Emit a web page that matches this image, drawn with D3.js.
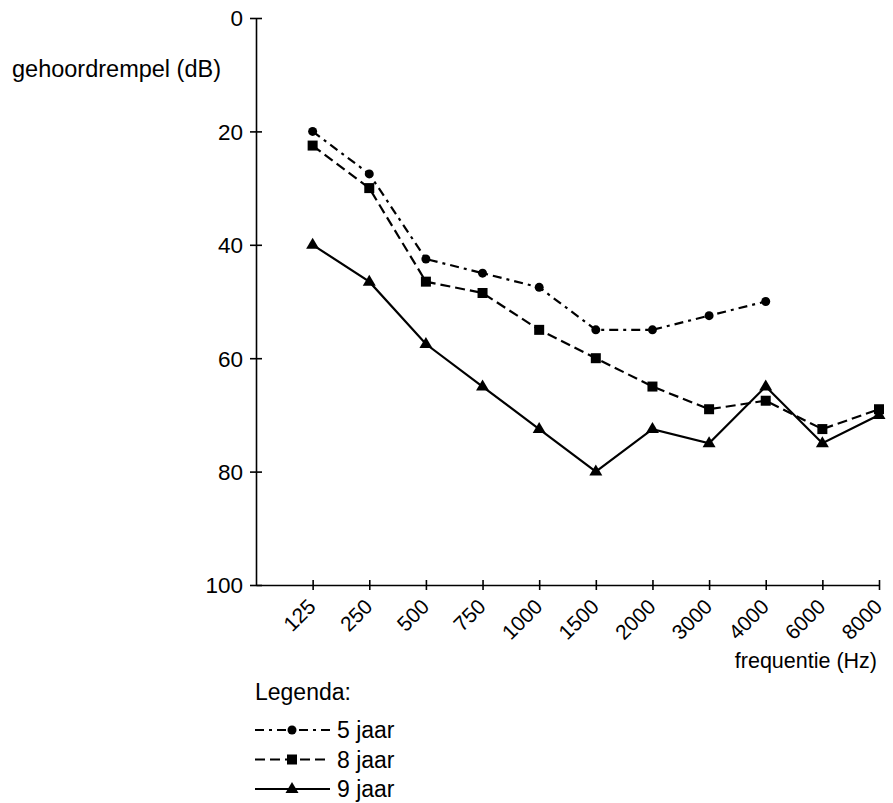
<!DOCTYPE html>
<html><head><meta charset="utf-8">
<script src="https://cdn.jsdelivr.net/npm/d3@7"></script>
<style>body{margin:0;background:#fff}text{font-family:Arial,"Liberation Sans",sans-serif;fill:#000}</style>
</head><body>
<svg id="c" width="893" height="803"></svg>
<script>
const frequencies = ["125","250","500","750","1000","1500","2000","3000","4000","6000","8000"];
const yTicks = [0,20,40,60,80,100];
const jaar5 = [20,27.5,42.5,45,47.5,55,55,52.5,50,null,null];
const jaar8 = [22.5,30,46.5,48.5,55,60,65,69,67.5,72.5,69];
const jaar9 = [40,46.5,57.5,65,72.5,80,72.5,75,65,75,70];
const seriesNames = ["5 jaar","8 jaar","9 jaar"];

const svg = d3.select("#c");
const x0 = 256, x1 = 879, yTop = 18, yBot = 585;
const x = d3.scalePoint().domain(["", ...frequencies]).range([x0, x1]);
const y = d3.scaleLinear().domain([0,100]).range([yTop, yBot]);

// axes
const yAxis = svg.append("g").attr("transform",`translate(${x0},0)`)
  .call(d3.axisLeft(y).tickValues(yTicks).tickSize(6).tickSizeOuter(0).tickPadding(6));
yAxis.select(".domain").attr("stroke","#000").attr("stroke-width",1.6);
yAxis.selectAll(".tick line").attr("stroke-width",1.6).attr("x1",-6).attr("x2",6);
yAxis.selectAll(".tick text").attr("font-size",22.5).attr("x",-13).attr("dy","0.35em");

const xAxis = svg.append("g").attr("transform",`translate(0,${yBot})`)
  .call(d3.axisBottom(x).tickValues(frequencies).tickSize(5).tickSizeOuter(0));
xAxis.select(".domain").attr("stroke-width",1.6);
xAxis.selectAll(".tick line").attr("stroke-width",1.6).attr("y1",-5).attr("y2",5);
xAxis.selectAll(".tick text").attr("font-size",21)
  .attr("text-anchor","end").attr("dy",0).attr("y",0)
  .attr("transform","translate(4,23) rotate(-45)");

svg.append("text").attr("x",12).attr("y",77).attr("font-size",23.5).text("gehoordrempel (dB)");
svg.append("text").attr("x",877).attr("y",668).attr("font-size",21.5).attr("text-anchor","end").text("frequentie (Hz)");

const styles = [
  {data: jaar5, dash: "9,5,3,5", marker: "circle"},
  {data: jaar8, dash: "10,5", marker: "square"},
  {data: jaar9, dash: null, marker: "triangle"}
];
function drawMarker(g, type, cx, cy){
  if(type==="circle") g.append("circle").attr("cx",cx).attr("cy",cy).attr("r",4.5);
  else if(type==="square") g.append("rect").attr("x",cx-5).attr("y",cy-5).attr("width",10).attr("height",10);
  else g.append("path").attr("d",`M${cx},${cy-7}L${cx+6.5},${cy+4}L${cx-6.5},${cy+4}Z`);
}
const line = d3.line().defined(d=>d.v!=null).x(d=>x(d.f)).y(d=>y(d.v));
styles.forEach(s=>{
  const pts = frequencies.map((f,i)=>({f, v:s.data[i]}));
  svg.append("path").datum(pts).attr("d",line).attr("fill","none").attr("stroke","#000")
    .attr("stroke-width",2.2).attr("stroke-dasharray",s.dash);
  const g = svg.append("g");
  pts.filter(d=>d.v!=null).forEach(d=>drawMarker(g, s.marker, x(d.f), y(d.v)));
});

// legend
svg.append("text").attr("x",255).attr("y",700).attr("font-size",23).text("Legenda:");
seriesNames.forEach((n,i)=>{
  const ly = 730 + i*29.5;
  svg.append("line").attr("x1",255).attr("x2",330).attr("y1",ly).attr("y2",ly)
    .attr("stroke","#000").attr("stroke-width",2.2).attr("stroke-dasharray",styles[i].dash);
  drawMarker(svg, styles[i].marker, 292, ly);
  svg.append("text").attr("x",337).attr("y",ly+8).attr("font-size",23).text(n);
});
</script>
</body></html>
